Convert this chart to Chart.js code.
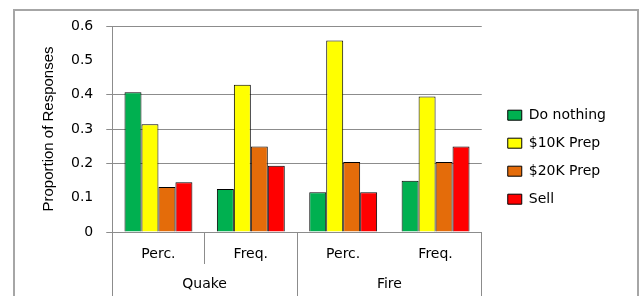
<!DOCTYPE html>
<html>
<head>
<meta charset="utf-8">
<script src="https://cdn.jsdelivr.net/npm/chart.js@4"></script>
<style>
html,body{margin:0;padding:0;background:#fff;}
#wrap{position:relative;width:644px;height:296px;overflow:hidden;}
#frame{position:absolute;left:13px;top:9px;width:622px;height:300px;border:2px solid #a6a6a6;pointer-events:none;}
canvas{position:absolute;left:0;top:0;}
</style>
</head>
<body>
<div id="wrap"><canvas id="c" width="644" height="296"></canvas><div id="frame"></div></div>
<script>
const categories = ['Perc.', 'Freq.', 'Perc.', 'Freq.'];
const groups = ['Quake', 'Fire'];
const seriesNames = ['Do nothing', '$10K Prep', '$20K Prep', 'Sell'];
const doNothing = [0.407, 0.125, 0.116, 0.149];
const prep10K = [0.314, 0.429, 0.558, 0.395];
const prep20K = [0.131, 0.249, 0.204, 0.204];
const sell = [0.145, 0.193, 0.116, 0.249];
const yTicks = [0, 0.1, 0.2, 0.3, 0.4, 0.5, 0.6];
const colors = ['#00b050', '#ffff00', '#e46c0a', '#ff0000'];

const GRID = '#8c8c8c';
const CLEAR = 'rgba(0,0,0,0)';
const baseFont = {family: 'DejaVu Sans', size: 14};

const values = [doNothing, prep10K, prep20K, sell];
const datasets = values.map((v, i) => ({
  label: seriesNames[i],
  data: v,
  backgroundColor: colors[i],
  borderColor: '#000',
  borderWidth: 1,
  borderSkipped: 'bottom',
  barPercentage: 1.0,
  categoryPercentage: 0.735
}));

// nudges the library-drawn legend a little to the right of its layout box
const legendShift = {
  id: 'legendShift',
  afterLayout(chart) {
    const l = chart.legend;
    if (l) { l.left += 12; l.right += 12; }
  }
};

new Chart(document.getElementById('c'), {
  type: 'bar',
  data: {labels: categories, datasets},
  plugins: [legendShift],
  options: {
    responsive: false,
    animation: false,
    devicePixelRatio: 1,
    layout: {padding: {left: 40, right: 40, top: 26, bottom: 32}},
    plugins: {
      legend: {
        position: 'right',
        align: 'center',
        title: {display: true, text: ' ', font: {size: 12}, padding: 5},
        labels: {
          boxWidth: 14, boxHeight: 10, padding: 14,
          color: '#000', font: baseFont
        }
      },
      tooltip: {enabled: false}
    },
    scales: {
      x: {
        position: 'bottom',
        offset: true,
        grid: {
          display: true, drawOnChartArea: false, offset: true, tickLength: 32,
          color: (ctx) => ctx.index === 3 ? CLEAR : GRID
        },
        border: {display: true, color: GRID},
        ticks: {display: false}
      },
      xLab: {
        type: 'category',
        labels: categories,
        position: 'bottom',
        offset: true,
        grid: {display: false, drawTicks: false, tickLength: 0},
        border: {display: false},
        ticks: {
          color: '#000', font: {family: 'DejaVu Sans', size: 14, lineHeight: '20px'},
          padding: 0, mirror: true, crossAlign: 'near', maxRotation: 0, autoSkip: false
        }
      },
      x2: {
        type: 'category',
        labels: groups,
        position: 'bottom',
        offset: true,
        grid: {display: true, drawOnChartArea: false, offset: true, tickLength: 38, color: GRID},
        border: {display: false},
        ticks: {
          color: '#000', font: {family: 'DejaVu Sans', size: 14, lineHeight: '20px'},
          padding: -20, mirror: true, crossAlign: 'far', maxRotation: 0, autoSkip: false
        }
      },
      y: {
        position: 'left',
        min: 0, max: 0.6,
        afterBuildTicks: (s) => { s.ticks = yTicks.map(v => ({value: v})); },
        grid: {
          tickLength: 6,
          color: (ctx) => {
            const k = Math.round(ctx.tick.value * 10);
            return (k === 1 || k === 5) ? CLEAR : GRID;
          }
        },
        border: {display: true, color: GRID},
        ticks: {
          color: '#000', font: baseFont, padding: 13,
          callback: (v) => String(Math.round(v * 10) / 10)
        },
        title: {
          display: true, text: 'Proportion of Responses', color: '#000',
          font: {family: 'Liberation Sans', size: 15},
          padding: {top: 0, bottom: 0}
        }
      }
    }
  }
});
</script>
</body>
</html>
